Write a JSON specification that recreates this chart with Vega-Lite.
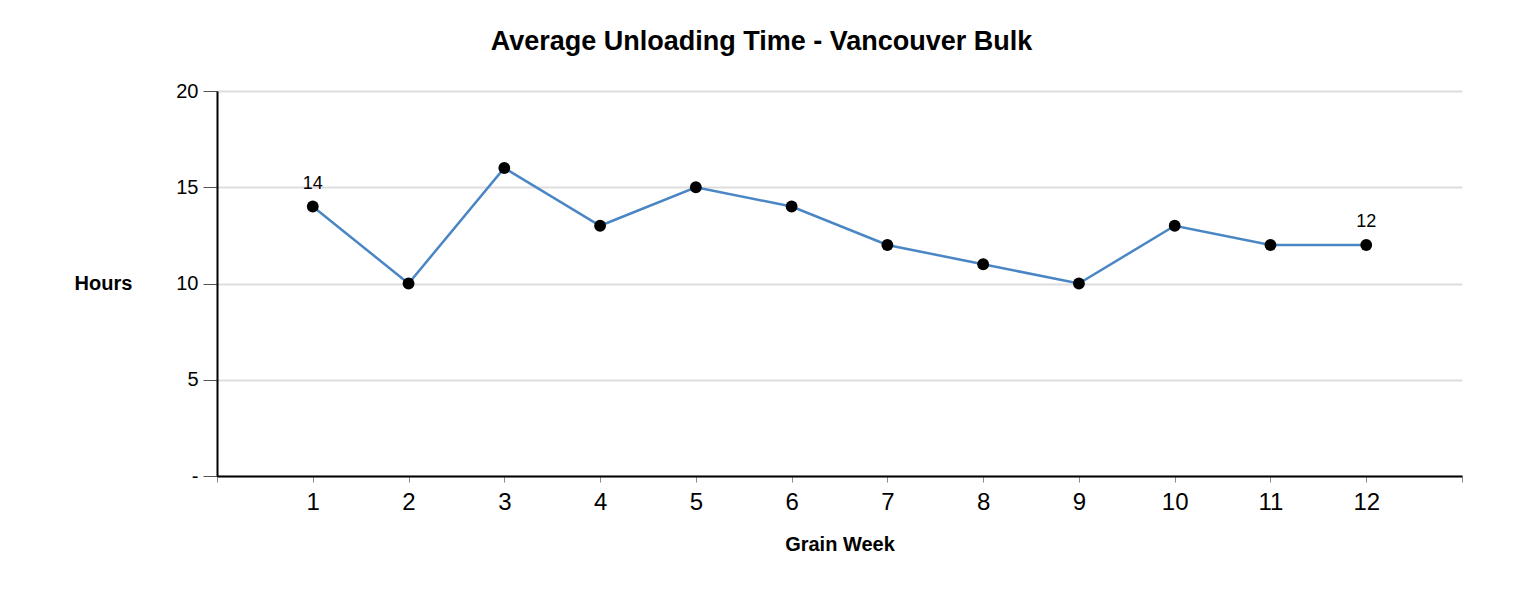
{
  "$schema": "https://vega.github.io/schema/vega-lite/v6.json",
  "width": 1245,
  "height": 385,
  "autosize": {"type": "none"},
  "padding": {"left": 217, "top": 91, "right": 60, "bottom": 120},
  "background": "white",
  "title": {
    "text": "Average Unloading Time - Vancouver Bulk",
    "font": "Liberation Sans",
    "fontSize": 27,
    "fontWeight": "bold",
    "color": "black",
    "anchor": "middle",
    "offset": 25,
    "dx": -78
  },
  "config": {
    "view": {"stroke": null},
    "font": "Liberation Sans"
  },
  "data": {
    "values": [
      {"week": 1, "hours": 14},
      {"week": 2, "hours": 10},
      {"week": 3, "hours": 16},
      {"week": 4, "hours": 13},
      {"week": 5, "hours": 15},
      {"week": 6, "hours": 14},
      {"week": 7, "hours": 12},
      {"week": 8, "hours": 11},
      {"week": 9, "hours": 10},
      {"week": 10, "hours": 13},
      {"week": 11, "hours": 12},
      {"week": 12, "hours": 12}
    ]
  },
  "encoding": {
    "x": {
      "field": "week",
      "type": "quantitative",
      "scale": {"domain": [0, 13], "nice": false, "zero": false},
      "axis": {
        "title": "Grain Week",
        "titleFont": "Liberation Sans",
        "titleFontSize": 20,
        "titleFontWeight": "bold",
        "titleColor": "black",
        "titleBaseline": "middle",
        "titleY": 68,
        "values": [0, 1, 2, 3, 4, 5, 6, 7, 8, 9, 10, 11, 12, 13],
        "labelExpr": "datum.value >= 1 && datum.value <= 12 ? datum.label : ''",
        "labelFont": "Liberation Sans",
        "labelFontSize": 24,
        "labelColor": "black",
        "labelPadding": 8,
        "labelFlush": false,
        "labelOverlap": false,
        "domainColor": "black",
        "domainWidth": 2,
        "tickColor": "#888888",
        "tickSize": 6,
        "tickWidth": 1,
        "grid": false
      }
    },
    "y": {
      "field": "hours",
      "type": "quantitative",
      "scale": {"domain": [0, 20], "nice": false},
      "axis": {
        "title": "Hours",
        "titleFont": "Liberation Sans",
        "titleFontSize": 20,
        "titleFontWeight": "bold",
        "titleColor": "black",
        "titleAngle": 0,
        "titleAlign": "center",
        "titleBaseline": "middle",
        "titleX": -114,
        "titleY": 192,
        "values": [0, 5, 10, 15, 20],
        "labelExpr": "datum.value == 0 ? '-' : datum.label",
        "labelFont": "Liberation Sans",
        "labelFontSize": 20,
        "labelColor": "black",
        "labelPadding": 5,
        "labelFlush": false,
        "domainColor": "black",
        "domainWidth": 2,
        "tickColor": "#555555",
        "tickSize": 14,
        "tickWidth": 1,
        "grid": true,
        "gridColor": "#dddddd",
        "gridWidth": 2
      }
    }
  },
  "layer": [
    {
      "mark": {"type": "line", "color": "#4a86c4", "strokeWidth": 2.5}
    },
    {
      "mark": {"type": "point", "filled": true, "color": "black", "size": 140, "opacity": 1}
    },
    {
      "transform": [{"filter": "datum.week == 1 || datum.week == 12"}],
      "mark": {"type": "text", "font": "Liberation Sans", "fontSize": 18, "color": "black", "baseline": "alphabetic", "dy": -18},
      "encoding": {"text": {"field": "hours", "type": "quantitative"}}
    }
  ]
}
